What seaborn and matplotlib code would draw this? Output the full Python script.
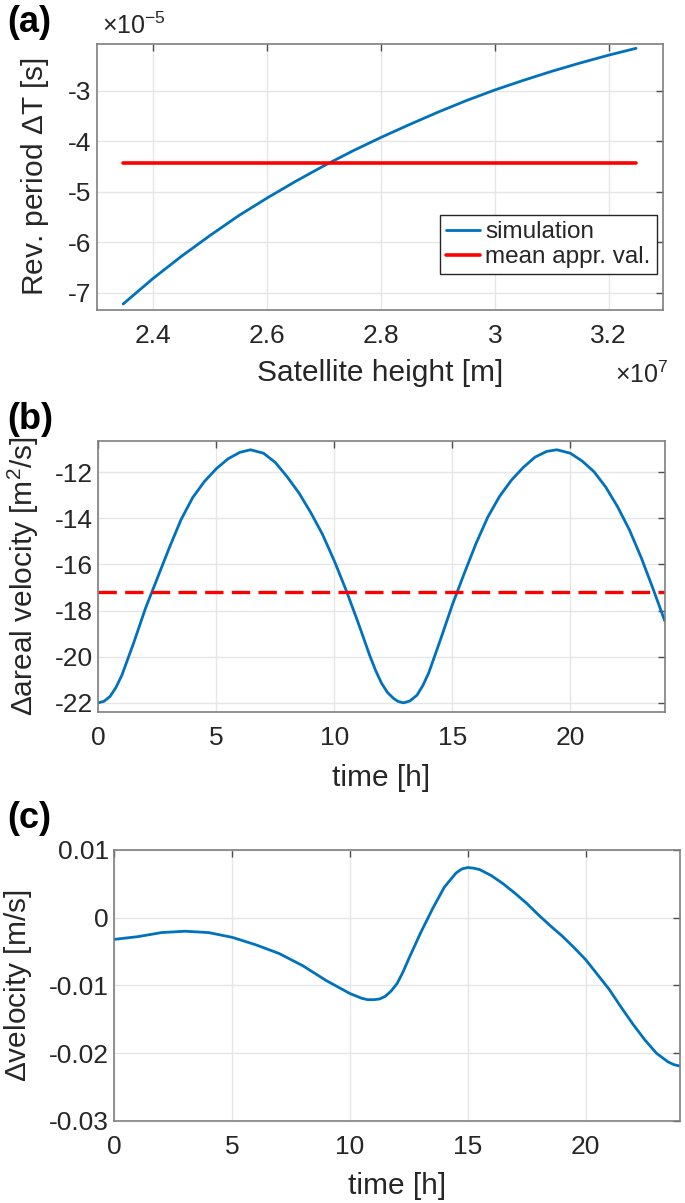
import seaborn as sns
import matplotlib.pyplot as plt
import matplotlib.ticker as mticker
import pandas as pd
import numpy as np

# -----------------------------
# Data
# -----------------------------
# (a) revolution period difference vs satellite height
height_m = [2.347e7, 2.40e7, 2.45e7, 2.50e7, 2.55e7, 2.60e7, 2.65e7, 2.70e7, 2.75e7,
            2.80e7, 2.85e7, 2.90e7, 2.95e7, 3.00e7, 3.05e7, 3.10e7, 3.15e7, 3.20e7,
            3.248e7]
period_dt = [-7.22e-5, -6.71e-5, -6.27e-5, -5.86e-5, -5.47e-5, -5.12e-5, -4.79e-5,
             -4.48e-5, -4.19e-5, -3.92e-5, -3.665e-5, -3.42e-5, -3.19e-5, -2.98e-5,
             -2.79e-5, -2.61e-5, -2.445e-5, -2.29e-5, -2.155e-5]
period_mean = -4.43e-5

# (b) areal velocity difference over one day
time_b = [0, 0.25, 0.5, 0.75, 1, 1.5, 2, 2.5, 3, 3.5, 4, 4.5, 5, 5.5, 6, 6.45, 7,
          7.5, 8, 8.5, 9, 9.5, 10, 10.5, 11, 11.5, 11.75, 12, 12.25, 12.5, 12.7,
          12.93, 13.2, 13.5, 13.75, 14, 14.5, 15, 15.5, 16, 16.5, 17, 17.5, 18,
          18.5, 19, 19.43, 20, 20.5, 21, 21.5, 22, 22.5, 23, 23.5, 24]
areal_b = [-22.0, -21.93, -21.72, -21.33, -20.8, -19.4, -17.9, -16.6, -15.3, -14.07,
           -13.1, -12.4, -11.85, -11.42, -11.14, -11.03, -11.18, -11.58, -12.2,
           -12.9, -13.75, -14.7, -15.85, -17.12, -18.5, -19.95, -20.6, -21.15,
           -21.55, -21.8, -21.94, -22.0, -21.92, -21.67, -21.25, -20.7, -19.25,
           -17.75, -16.4, -15.1, -13.95, -13.05, -12.35, -11.8, -11.35, -11.1,
           -11.03, -11.18, -11.52, -11.98, -12.65, -13.5, -14.5, -15.7, -17.05,
           -18.45]
areal_mean = -17.18

# (c) velocity difference over one day
time_c = [0, 1, 2, 3, 4, 5, 6, 7, 8, 9, 10, 10.5, 10.75, 11, 11.25, 11.5, 11.75,
          12, 12.25, 12.5, 13, 13.5, 14, 14.5, 14.75, 15, 15.25, 15.5, 16, 16.5,
          17, 17.5, 18, 18.5, 19, 19.5, 20, 20.5, 21, 21.5, 22, 22.5, 23, 23.5,
          23.75, 24]
vel_c = [-0.0032, -0.0028, -0.0022, -0.0020, -0.0022, -0.0029, -0.0040, -0.0053,
         -0.0071, -0.0093, -0.0112, -0.0119, -0.0121, -0.0121, -0.0120, -0.0116,
         -0.0108, -0.0097, -0.0080, -0.0060, -0.0022, 0.0013, 0.0045, 0.0066,
         0.0072, 0.0074, 0.0073, 0.0071, 0.0062, 0.0050, 0.0036, 0.0021, 0.0004,
         -0.0012, -0.0027, -0.0044, -0.0062, -0.0084, -0.0106, -0.0132, -0.0157,
         -0.0180, -0.0200, -0.0213, -0.0217, -0.0219]

x_ticks_a = [2.4e7, 2.6e7, 2.8e7, 3.0e7, 3.2e7]
y_ticks_a = [-7e-5, -6e-5, -5e-5, -4e-5, -3e-5]
t_ticks = [0, 5, 10, 15, 20]
y_ticks_b = [-22, -20, -18, -16, -14, -12]
y_ticks_c = [-0.03, -0.02, -0.01, 0, 0.01]

df_a = pd.DataFrame({"h": height_m, "dT": period_dt})
df_a_mean = pd.DataFrame({"h": [height_m[0], height_m[-1]], "dT": [period_mean, period_mean]})
df_b = pd.DataFrame({"t": time_b, "v": areal_b})
df_b_mean = pd.DataFrame({"t": [time_b[0], time_b[-1]], "v": [areal_mean, areal_mean]})
df_c = pd.DataFrame({"t": time_c, "v": vel_c})

# -----------------------------
# Styling
# -----------------------------
sns.set_style("whitegrid")
plt.rcParams["font.family"] = ["Liberation Sans", "DejaVu Sans"]
plt.rcParams["axes.unicode_minus"] = False
plt.rcParams["mathtext.fontset"] = "custom"
plt.rcParams["mathtext.rm"] = "Liberation Sans"

BLUE = "#0072BD"
RED = "#FF0000"
TXT = "#262626"
TICK_FS = 19
LABEL_FS = 21.5

fig = plt.figure(figsize=(6.85, 12.03), dpi=100)
ax_a = fig.add_axes([0.1416, 0.7423, 0.826, 0.2211])
ax_b = fig.add_axes([0.1435, 0.4081, 0.827, 0.2255])
ax_c = fig.add_axes([0.1669, 0.0682, 0.8258, 0.2253])


def matlab_look(ax):
    ax.grid(True, color="#e6e6e6", linewidth=1.0)
    for s in ax.spines.values():
        s.set_visible(True)
        s.set_color("#7f7f7f")
        s.set_linewidth(1.2)
    ax.tick_params(axis="both", which="both", direction="in", length=5, width=1,
                   color="#4d4d4d", top=True, right=True, labelsize=TICK_FS,
                   labelcolor=TXT)
    ax.tick_params(axis="x", pad=10)
    ax.tick_params(axis="y", pad=4)


# -----------------------------
# (a)
# -----------------------------
sns.lineplot(data=df_a, x="h", y="dT", ax=ax_a, color=BLUE, linewidth=2.0,
             label="simulation", sort=False)
sns.lineplot(data=df_a_mean, x="h", y="dT", ax=ax_a, color=RED, linewidth=2.6,
             label="mean appr. val.")
ax_a.set_xlim(2.301e7, 3.295e7)
ax_a.set_ylim(-7.34e-5, -2.07e-5)
ax_a.set_xticks(x_ticks_a)
ax_a.set_yticks(y_ticks_a)
ax_a.xaxis.set_major_formatter(mticker.FuncFormatter(lambda v, p: f"{v / 1e7:g}"))
ax_a.yaxis.set_major_formatter(mticker.FuncFormatter(lambda v, p: f"{v / 1e-5:g}"))
matlab_look(ax_a)
ax_a.set_xlabel("Satellite height [m]", fontsize=LABEL_FS, color=TXT)
ax_a.set_ylabel("Rev. period $\\Delta$T [s]", fontsize=LABEL_FS, color=TXT)
ax_a.xaxis.set_label_coords(0.5, -0.185)
ax_a.yaxis.set_label_coords(-0.082, 0.5)
ax_a.text(0.008, 1.02, "$\\times$10$^{-5}$", transform=ax_a.transAxes,
          fontsize=18, color=TXT, ha="left", va="bottom")
ax_a.text(1.01, -0.295, "$\\times$10$^{7}$", transform=ax_a.transAxes,
          fontsize=18, color=TXT, ha="right", va="bottom")
leg = ax_a.legend(loc="lower right", bbox_to_anchor=(0.989, 0.135), fontsize=17.5,
                  frameon=True, fancybox=False, handlelength=1.4, handletextpad=0.2,
                  borderpad=0.25, labelspacing=0.12, borderaxespad=0)
leg.get_frame().set_edgecolor("#262626")
leg.get_frame().set_linewidth(1.0)
leg.get_frame().set_alpha(1)

# -----------------------------
# (b)
# -----------------------------
sns.lineplot(data=df_b, x="t", y="v", ax=ax_b, color=BLUE, linewidth=2.0)
sns.lineplot(data=df_b_mean, x="t", y="v", ax=ax_b, color=RED, linewidth=2.4,
             dashes=False, linestyle=(0, (5.5, 2.5)))
ax_b.set_xlim(0, 24)
ax_b.set_ylim(-22.4, -10.64)
ax_b.set_xticks(t_ticks)
ax_b.set_yticks(y_ticks_b)
ax_b.xaxis.set_major_formatter(mticker.FuncFormatter(lambda v, p: f"{v:g}"))
ax_b.yaxis.set_major_formatter(mticker.FuncFormatter(lambda v, p: f"{v:g}"))
matlab_look(ax_b)
ax_b.set_xlabel("time [h]", fontsize=LABEL_FS, color=TXT)
ax_b.set_ylabel("$\\Delta$areal velocity [m$^2$/s]", fontsize=LABEL_FS, color=TXT)
ax_b.xaxis.set_label_coords(0.5, -0.19)
ax_b.yaxis.set_label_coords(-0.101, 0.5)

# -----------------------------
# (c)
# -----------------------------
sns.lineplot(data=df_c, x="t", y="v", ax=ax_c, color=BLUE, linewidth=2.0)
ax_c.set_xlim(0, 24)
ax_c.set_ylim(-0.03, 0.01)
ax_c.set_xticks(t_ticks)
ax_c.set_yticks(y_ticks_c)
ax_c.xaxis.set_major_formatter(mticker.FuncFormatter(lambda v, p: f"{v:g}"))
ax_c.yaxis.set_major_formatter(mticker.FuncFormatter(lambda v, p: f"{round(v, 4):g}"))
matlab_look(ax_c)
ax_c.set_xlabel("time [h]", fontsize=LABEL_FS, color=TXT)
ax_c.set_ylabel("$\\Delta$velocity [m/s]", fontsize=LABEL_FS, color=TXT)
ax_c.xaxis.set_label_coords(0.5, -0.19)
ax_c.yaxis.set_label_coords(-0.142, 0.5)

# panel letters
for lbl, y in [("(a)", 0.981), ("(b)", 0.651), ("(c)", 0.32)]:
    fig.text(0.01, y, lbl, fontsize=26, fontweight="bold", color="black",
             ha="left", va="center")

plt.savefig("out.png", dpi=100)
plt.close()
